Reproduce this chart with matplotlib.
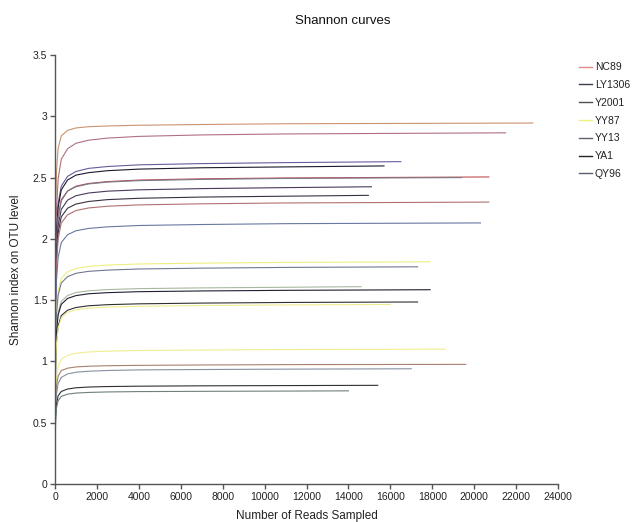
import matplotlib
matplotlib.use("Agg")
import matplotlib.pyplot as plt
from matplotlib.lines import Line2D

plt.rcParams['font.family'] = ['Liberation Sans', 'DejaVu Sans']

# ---- data ----
samples = ["NC89", "LY1306", "Y2001", "YY87", "YY13", "YA1", "QY96"]
legend_colors = ['#e08a8a', '#3c3c4c', '#505050', '#f0f07a', '#606070', '#262626', '#565e70']

depths = [1, 10, 30, 70, 150, 300, 600, 1000, 1600, 2500, 4000, 7000, 11000]

end_depths = [22800, 21500, 16500, 15700, 20700, 19400, 15100, 14950, 20700, 20300,
              17900, 17300, 14600, 17900, 17300, 16000, 18600, 19600, 17000, 15400, 14000]

c01 = [0, 1.60, 2.20, 2.55, 2.74, 2.84, 2.885, 2.905, 2.915, 2.921, 2.927, 2.933, 2.939, 2.945]
c02 = [0, 1.29, 1.89, 2.235, 2.49, 2.65, 2.735, 2.78, 2.805, 2.822, 2.836, 2.848, 2.856, 2.865]
c03 = [0, 1.18, 1.74, 2.05, 2.29, 2.43, 2.51, 2.55, 2.575, 2.59, 2.604, 2.614, 2.622, 2.63]
c04 = [0, 1.17, 1.71, 2.02, 2.26, 2.40, 2.48, 2.52, 2.54, 2.556, 2.569, 2.58, 2.587, 2.595]
c05 = [0, 1.13, 1.65, 1.95, 2.18, 2.32, 2.39, 2.43, 2.452, 2.467, 2.48, 2.49, 2.497, 2.505]
c06 = [0, 1.12, 1.65, 1.95, 2.17, 2.31, 2.39, 2.425, 2.448, 2.463, 2.475, 2.485, 2.493, 2.50]
c07 = [0, 1.09, 1.60, 1.89, 2.11, 2.24, 2.316, 2.352, 2.374, 2.389, 2.40, 2.41, 2.418, 2.425]
c08 = [0, 1.06, 1.55, 1.84, 2.05, 2.18, 2.25, 2.284, 2.305, 2.32, 2.331, 2.341, 2.348, 2.355]
c09 = [0, 1.04, 1.52, 1.79, 2.00, 2.13, 2.196, 2.231, 2.252, 2.266, 2.277, 2.286, 2.293, 2.30]
c10 = [0, 0.96, 1.41, 1.66, 1.85, 1.97, 2.034, 2.066, 2.085, 2.098, 2.109, 2.117, 2.124, 2.13]
c11 = [0, 0.82, 1.20, 1.41, 1.58, 1.677, 1.731, 1.759, 1.775, 1.786, 1.795, 1.802, 1.808, 1.813]
c12 = [0, 0.80, 1.17, 1.38, 1.54, 1.64, 1.692, 1.719, 1.735, 1.745, 1.754, 1.761, 1.767, 1.772]
c13 = [0, 0.72, 1.06, 1.26, 1.40, 1.49, 1.538, 1.562, 1.576, 1.586, 1.594, 1.60, 1.605, 1.61]
c14 = [0, 0.71, 1.05, 1.24, 1.38, 1.466, 1.514, 1.537, 1.552, 1.561, 1.569, 1.575, 1.58, 1.585]
c15 = [0, 0.67, 0.98, 1.16, 1.29, 1.374, 1.418, 1.44, 1.454, 1.463, 1.47, 1.476, 1.481, 1.485]
c16 = [0, 0.66, 0.97, 1.14, 1.27, 1.355, 1.40, 1.421, 1.434, 1.443, 1.45, 1.456, 1.461, 1.465]
c17 = [0, 0.50, 0.73, 0.86, 0.96, 1.018, 1.05, 1.067, 1.077, 1.084, 1.089, 1.093, 1.097, 1.10]
c18 = [0, 0.48, 0.68, 0.80, 0.88, 0.925, 0.945, 0.955, 0.961, 0.965, 0.968, 0.971, 0.974, 0.976]
c19 = [0, 0.42, 0.62, 0.73, 0.82, 0.87, 0.898, 0.912, 0.92, 0.926, 0.931, 0.934, 0.937, 0.94]
c20 = [0, 0.38, 0.55, 0.65, 0.72, 0.755, 0.775, 0.785, 0.791, 0.795, 0.798, 0.801, 0.803, 0.805]
c21 = [0, 0.36, 0.52, 0.62, 0.68, 0.715, 0.733, 0.742, 0.747, 0.751, 0.754, 0.756, 0.758, 0.76]

curves = [c01, c02, c03, c04, c05, c06, c07, c08, c09, c10, c11,
          c12, c13, c14, c15, c16, c17, c18, c19, c20, c21]

curve_colors = ['#c8946e', '#b07080', '#6a5a9a', '#1a1a2a', '#c05050', '#7a7a8a', '#4a3a5a',
                '#3a3040', '#b07070', '#6878a0', '#eeee80', '#707890', '#a8b8a0', '#202030',
                '#303030', '#f0ec90', '#f0ee90', '#a88070', '#8890a0', '#303030', '#70807a']

x_ticks = [0, 2000, 4000, 6000, 8000, 10000, 12000, 14000, 16000, 18000, 20000, 22000, 24000]
y_ticks = [0, 0.5, 1, 1.5, 2, 2.5, 3, 3.5]
y_tick_labels = ["0", "0.5", "1", "1.5", "2", "2.5", "3", "3.5"]

# ---- figure ----
W, H = 632, 522
fig = plt.figure(figsize=(W / 100, H / 100), dpi=100)
ax = fig.add_axes([55 / W, (H - 484) / H, (558 - 55) / W, (484 - 55) / H])

for vals, end, col in zip(curves, end_depths, curve_colors):
    xs = depths + [end]
    ax.plot(xs, vals, color=col, lw=0.8, solid_joinstyle='round')

ax.set_xlim(0, 24000)
ax.set_ylim(0, 3.5)
ax.set_xticks(x_ticks)
ax.set_xticklabels([str(t) for t in x_ticks])
ax.set_yticks(y_ticks)
ax.set_yticklabels(y_tick_labels)

for s in ['top', 'right']:
    ax.spines[s].set_visible(False)
for s in ['left', 'bottom']:
    ax.spines[s].set_color('#555555')
    ax.spines[s].set_linewidth(1.0)
ax.tick_params(axis='both', direction='out', length=3.5, width=1.0, color='#555555',
               labelsize=7.5, labelcolor='#222222', pad=2)

ax.set_xlabel("Number of Reads Sampled", fontsize=8.5, color='#222222', labelpad=6)
ax.set_ylabel("Shannon index on OTU level", fontsize=8.5, color='#222222', labelpad=8)

fig.text(343 / W, 1 - 21 / H, "Shannon curves", ha='center', va='center',
         fontsize=9.5, color='#111111')

handles = [Line2D([0], [0], color=c, lw=1.0) for c in legend_colors]
fig.legend(handles, samples, loc='upper left', bbox_to_anchor=(575 / W, 1 - 58 / H),
           frameon=False, fontsize=7.5, handlelength=1.2, handletextpad=0.3,
           labelspacing=0.75, borderaxespad=0, labelcolor='#222222')

fig.savefig("out.png", dpi=100)
